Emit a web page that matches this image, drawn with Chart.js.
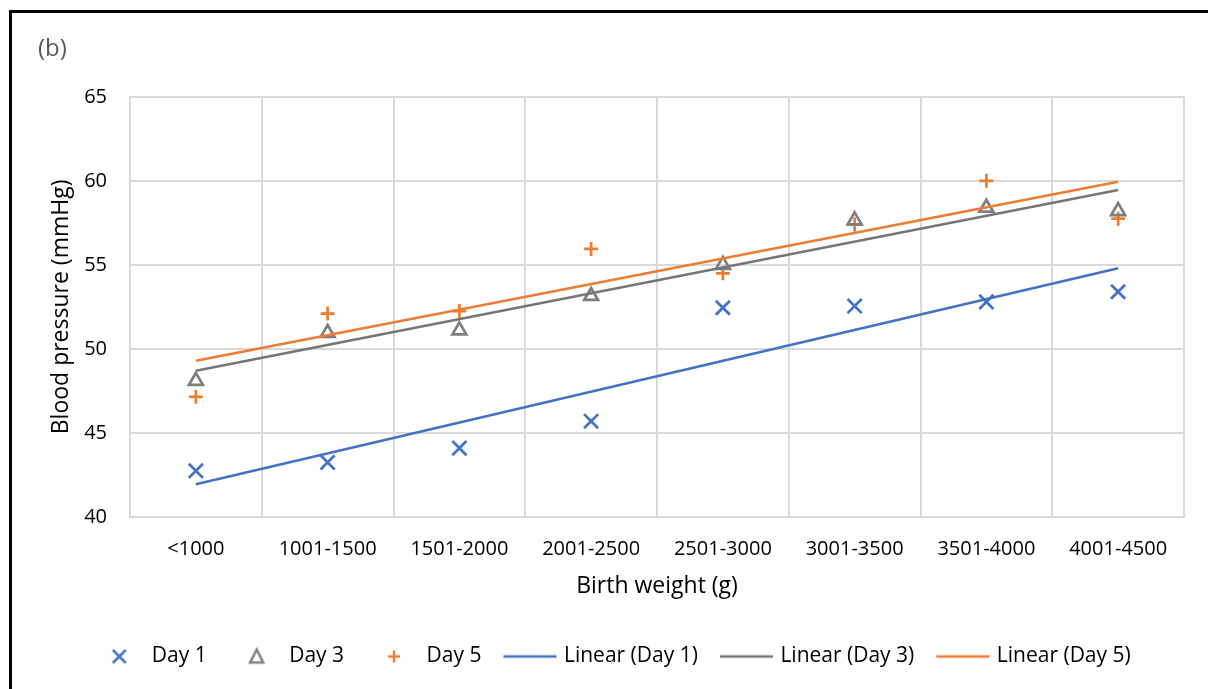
<!DOCTYPE html>
<html><head><meta charset="utf-8">
<script src="https://cdn.jsdelivr.net/npm/chart.js@4.4.1/dist/chart.umd.min.js"></script>
<style>
html,body{margin:0;padding:0;background:#fff;overflow:hidden;width:1208px;height:689px;}
#frame{position:absolute;left:9px;top:10px;width:1400px;height:900px;border:3px solid #000;box-sizing:border-box;}
#c{position:absolute;left:0;top:0;}
</style></head><body>
<div id="frame"></div>
<canvas id="c" width="1208" height="689"></canvas>
<script>
// ---- data ----
const categories = ['<1000','1001-1500','1501-2000','2001-2500','2501-3000','3001-3500','3501-4000','4001-4500'];
const day1 = [42.75, 43.25, 44.1, 45.7, 52.45, 52.55, 52.8, 53.4];
const day3 = [48.1, 50.95, 51.1, 53.15, 55.0, 57.65, 58.4, 58.2];
const day5 = [47.15, 52.1, 52.25, 55.95, 54.5, 57.4, 60.0, 57.75];
// trendline end values (first / last category)
const trend1 = [41.95, 54.8];
const trend3 = [48.7, 59.45];
const trend5 = [49.3, 59.95];
const yTicks = [40, 45, 50, 55, 60, 65];

const FONT = "'Open Sans', sans-serif";
const BLUE = '#4472C4', GRAY = '#7F7F7F', GRAYLINE = '#767676', ORANGE = '#ED7D31';
Chart.defaults.font.family = FONT;

function legendImg(kind, color) {
  const cv = document.createElement('canvas');
  cv.width = 60; cv.height = 24;
  const g = cv.getContext('2d');
  g.strokeStyle = color; g.lineWidth = 2.5;
  const cx = 33, cy = 12;
  g.beginPath();
  if (kind === 'x') { g.moveTo(cx-6.5,cy-6.5); g.lineTo(cx+6.5,cy+6.5); g.moveTo(cx+6.5,cy-6.5); g.lineTo(cx-6.5,cy+6.5); }
  else if (kind === 'tri') { g.moveTo(cx,cy-7); g.lineTo(cx+6.5,cy+6); g.lineTo(cx-6.5,cy+6); g.closePath(); }
  else if (kind === 'plus') { g.moveTo(cx-6,cy); g.lineTo(cx+6,cy); g.moveTo(cx,cy-6); g.lineTo(cx,cy+6); }
  else { g.lineWidth = 2.5; g.moveTo(5,cy); g.lineTo(58,cy); }
  g.stroke();
  return cv;
}
const legendImgs = [legendImg('x',BLUE), legendImg('tri',GRAY), legendImg('plus',ORANGE),
                    legendImg('line',BLUE), legendImg('line',GRAYLINE), legendImg('line',ORANGE)];

function trendData(t) {
  return [{x: categories[0], y: t[0]}, {x: categories[categories.length-1], y: t[1]}];
}

const scatterBase = {showLine: false, borderWidth: 2.75, pointBorderWidth: 2.75, backgroundColor: 'rgba(0,0,0,0)', order: 1};
const lineBase = {borderWidth: 2.5, pointRadius: 0, pointHoverRadius: 0, pointStyle: 'line', fill: false, tension: 0, order: 0};

new Chart(document.getElementById('c'), {
  type: 'line',
  data: {
    labels: categories,
    datasets: [
      Object.assign({label: 'Day 1', data: day1, borderColor: BLUE, pointBorderColor: BLUE, pointStyle: 'crossRot', pointRadius: 10, pointHoverRadius: 10}, scatterBase),
      Object.assign({label: 'Day 3', data: day3, borderColor: GRAY, pointBorderColor: GRAY, pointStyle: 'triangle', pointRadius: 8, pointHoverRadius: 8}, scatterBase),
      Object.assign({label: 'Day 5', data: day5, borderColor: ORANGE, pointBorderColor: ORANGE, pointStyle: 'cross', pointRadius: 7, pointHoverRadius: 7}, scatterBase),
      Object.assign({label: 'Linear (Day 1)', data: trendData(trend1), borderColor: BLUE}, lineBase),
      Object.assign({label: 'Linear (Day 3)', data: trendData(trend3), borderColor: GRAYLINE}, lineBase),
      Object.assign({label: 'Linear (Day 5)', data: trendData(trend5), borderColor: ORANGE}, lineBase)
    ]
  },
  options: {
    responsive: false,
    animation: false,
    devicePixelRatio: 1,
    events: [],
    layout: {padding: {left: 38, right: 24, top: 0, bottom: 12}},
    plugins: {
      tooltip: {enabled: false},
      title: {
        display: true, text: '(b)', align: 'start', color: '#595959',
        font: {family: FONT, size: 24, weight: 'normal'},
        padding: {top: 35, bottom: 33}
      },
      legend: {
        display: true, position: 'bottom', align: 'center',
        labels: {
          usePointStyle: true, pointStyleWidth: 50, boxHeight: 21,
          padding: 22, color: '#000',
          font: {family: FONT, size: 21},
          sort: (a, b) => a.datasetIndex - b.datasetIndex,
          generateLabels(chart) {
            const items = Chart.defaults.plugins.legend.labels.generateLabels(chart);
            items.forEach(it => { it.pointStyle = legendImgs[it.datasetIndex]; });
            return items;
          }
        }
      }
    },
    scales: {
      x: {
        type: 'category', offset: true,
        grid: {offset: true, color: '#D9D9D9', lineWidth: 2, drawTicks: false},
        border: {color: '#D9D9D9', width: 2},
        ticks: {padding: 20, color: '#000', font: {family: FONT, size: 20}, maxRotation: 0, autoSkip: false},
        title: {display: true, text: 'Birth weight (g)', color: '#000', font: {family: FONT, size: 23}, padding: {top: 0, bottom: 24}},
        afterFit(s) { s.height = 107; }
      },
      y: {
        min: yTicks[0], max: yTicks[yTicks.length-1],
        afterBuildTicks(s) { s.ticks = yTicks.map(v => ({value: v})); },
        grid: {color: '#D9D9D9', lineWidth: 2, drawTicks: false},
        border: {color: '#D9D9D9', width: 2},
        ticks: {padding: 23, color: '#000', font: {family: FONT, size: 20}},
        title: {display: true, text: 'Blood pressure (mmHg)', color: '#000', font: {family: FONT, size: 23}, padding: {top: 10, bottom: 0}},
        afterFit(s) { s.width = 92; }
      }
    }
  }
});
</script>
</body></html>
